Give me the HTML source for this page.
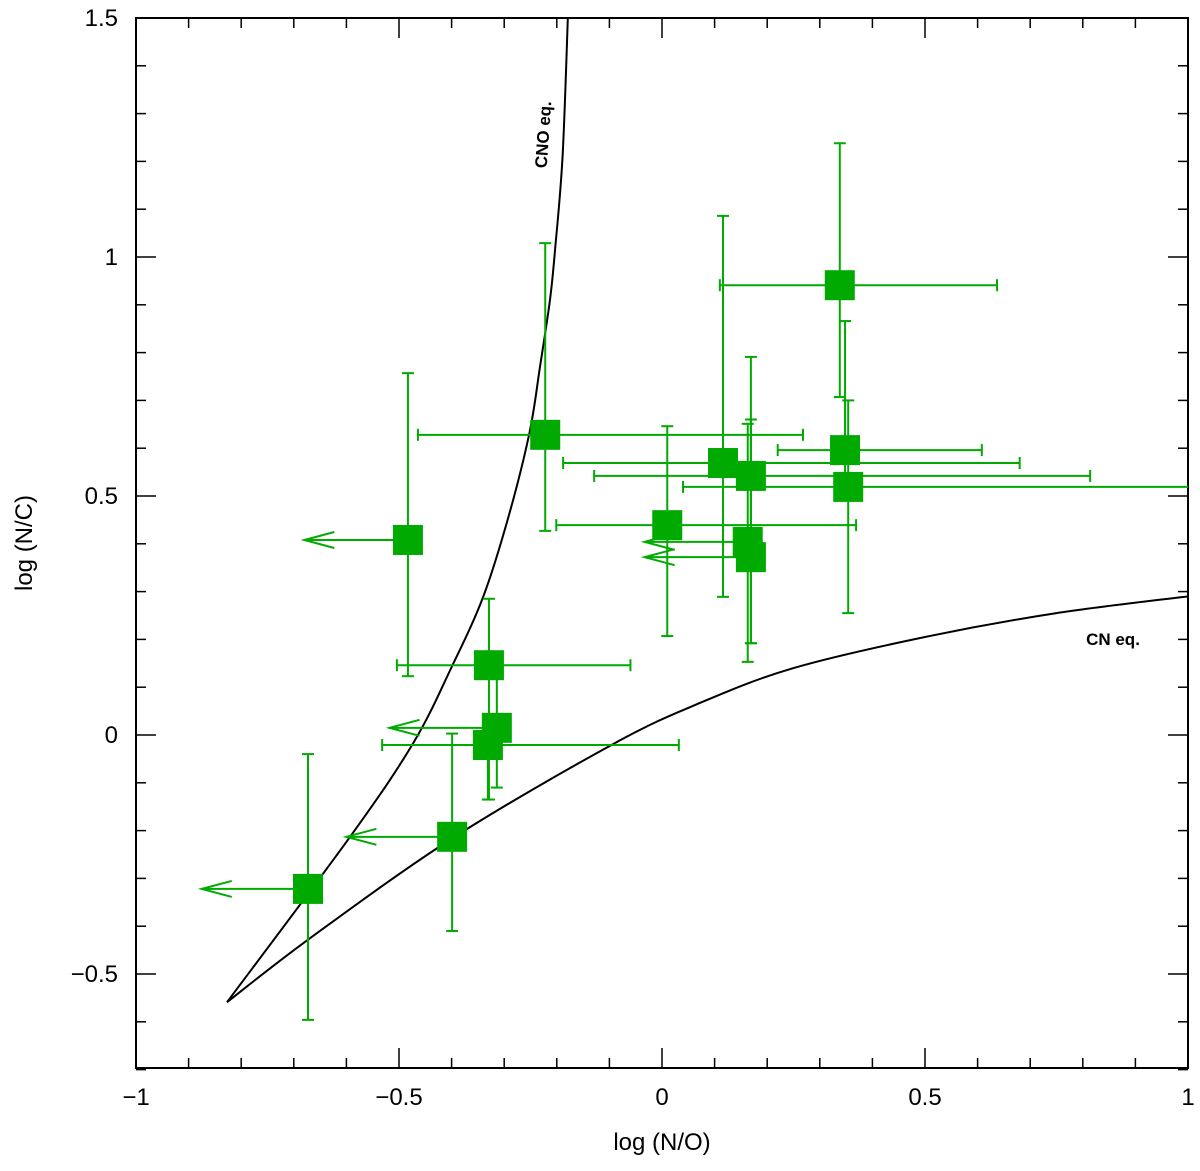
<!DOCTYPE html>
<html><head><meta charset="utf-8"><style>
html,body{margin:0;padding:0;background:#fff;}
svg text{font-family:"Liberation Sans",sans-serif;}
</style></head><body>
<svg id="chart" width="1200" height="1166" viewBox="0 0 1200 1166" xmlns="http://www.w3.org/2000/svg">
<rect x="136" y="18" width="1052" height="1050" fill="none" stroke="#000" stroke-width="2"/>
<g id="ticks"></g><g id="curves"></g><g id="points"></g>
<text x="662" y="1150" font-size="24" text-anchor="middle">log (N/O)</text>
<text x="32" y="543" font-size="24" text-anchor="middle" transform="rotate(-90 32 543)">log (N/C)</text>
<text x="549" y="135" font-size="17" font-weight="bold" text-anchor="middle" transform="rotate(-86 549 135)">CNO eq.</text>
<text x="1113" y="645" font-size="17" font-weight="bold" text-anchor="middle">CN eq.</text>
</svg>
<script>
const xs=[0.338,-0.222,-0.483,0.116,0.169,0.348,0.354,0.010,0.163,0.169,-0.329,-0.314,-0.331,-0.399,-0.673];
const ys=[0.941,0.628,0.408,0.569,0.542,0.596,0.519,0.439,0.404,0.372,0.146,0.015,-0.021,-0.213,-0.322];
const xLo=[0.110,-0.464,null,-0.188,-0.129,0.220,0.040,-0.201,null,null,-0.504,null,-0.532,null,null];
const xHi=[0.637,0.268,null,0.680,0.814,0.608,1.05,0.369,null,null,-0.060,null,0.032,null,null];
const xLimit=[null,null,-0.680,null,null,null,null,null,-0.033,-0.033,null,-0.518,null,-0.600,-0.875];
const yLo=[0.707,0.427,0.123,0.289,0.192,0.500,0.255,0.207,0.153,0.192,-0.135,-0.110,-0.135,-0.410,-0.596];
const yHi=[1.238,1.029,0.757,1.086,0.791,0.866,0.700,0.646,0.651,0.660,0.285,0.150,0.010,0.003,-0.040];
const cnoX=[-0.827,-0.593,-0.473,-0.400,-0.340,-0.292,-0.252,-0.232,-0.213,-0.203,-0.189,-0.179];
const cnoY=[-0.559,-0.213,-0.017,0.142,0.289,0.456,0.632,0.770,0.910,1.019,1.211,1.5];
const cnX=[-0.827,-0.669,-0.397,-0.093,0.072,0.25,0.5,0.75,1];
const cnY=[-0.559,-0.425,-0.215,-0.019,0.067,0.14,0.205,0.255,0.29];
const xTickLabels=["−1","−0.5","0","0.5","1"];
const yTickLabels=["−0.5","0","0.5","1","1.5"];
const X=v=>662+526*v, Y=v=>735-478*v;
const NS="http://www.w3.org/2000/svg";
function mk(t,a,p){const e=document.createElementNS(NS,t);for(const k in a)e.setAttribute(k,a[k]);p.appendChild(e);return e;}
const tg=document.getElementById('ticks');
for(let i=-10;i<=10;i++){const v=i/10,L=(i%5===0)?20:10,x=X(v);
 mk('line',{x1:x,x2:x,y1:1068,y2:1068-L,stroke:'#000','stroke-width':1.5},tg);
 mk('line',{x1:x,x2:x,y1:18,y2:18+L,stroke:'#000','stroke-width':1.5},tg);}
for(let i=-7;i<=15;i++){const v=i/10,L=(i%5===0)?20:10,y=Y(v);
 mk('line',{x1:136,x2:136+L,y1:y,y2:y,stroke:'#000','stroke-width':1.5},tg);
 mk('line',{x1:1188,x2:1188-L,y1:y,y2:y,stroke:'#000','stroke-width':1.5},tg);}
xTickLabels.forEach((s,i)=>{const t=mk('text',{x:X(-1+i*0.5),y:1105,'font-size':24,'text-anchor':'middle'},tg);t.textContent=s;
 
 });
yTickLabels.forEach((s,i)=>{const t=mk('text',{x:118,y:Y(-0.5+i*0.5)+8,'font-size':24,'text-anchor':'end'},tg);t.textContent=s;
 
 });
function smooth(ax,ay){const p=ax.map((v,i)=>[X(v),Y(ay[i])]);let d=`M${p[0][0]},${p[0][1]}`;
 for(let i=0;i<p.length-1;i++){const p0=p[i-1]||p[i],p1=p[i],p2=p[i+1],p3=p[i+2]||p2;
 d+=` C${p1[0]+(p2[0]-p0[0])/6},${p1[1]+(p2[1]-p0[1])/6} ${p2[0]-(p3[0]-p1[0])/6},${p2[1]-(p3[1]-p1[1])/6} ${p2[0]},${p2[1]}`;}return d;}
const cg=document.getElementById('curves');
const c1=mk('path',{d:smooth(cnoX,cnoY),fill:'none',stroke:'#000','stroke-width':2},cg);


const c2=mk('path',{d:smooth(cnX,cnY),fill:'none',stroke:'#000','stroke-width':2},cg);


const pg=document.getElementById('points');const G='#00aa00';
xs.forEach((xv,i)=>{const g=mk('g',{},pg);
 
 
 const cx=X(xv),cy=Y(ys[i]),s={stroke:G,'stroke-width':2};
 const y1=Y(yLo[i]),y2=Y(yHi[i]);
 mk('line',{x1:cx,x2:cx,y1:y1,y2:y2,...s},g);
 mk('line',{x1:cx-6,x2:cx+6,y1:y1,y2:y1,...s},g);
 mk('line',{x1:cx-6,x2:cx+6,y1:y2,y2:y2,...s},g);
 if(xLo[i]!==null){const a=X(xLo[i]),b=Math.min(X(xHi[i]),1188);
  mk('line',{x1:a,x2:b,y1:cy,y2:cy,...s},g);
  mk('line',{x1:a,x2:a,y1:cy-6,y2:cy+6,...s},g);
  if(X(xHi[i])<=1188)mk('line',{x1:b,x2:b,y1:cy-6,y2:cy+6,...s},g);}
 if(xLimit[i]!==null){const a=X(xLimit[i]);
  mk('line',{x1:a,x2:cx,y1:cy,y2:cy,...s},g);
  mk('path',{d:`M${a+30},${cy-8} L${a},${cy} L${a+30},${cy+8}`,fill:'none',...s},g);}
 mk('rect',{x:cx-15,y:cy-15,width:30,height:30,fill:G},g);
});
</script>
</body></html>
